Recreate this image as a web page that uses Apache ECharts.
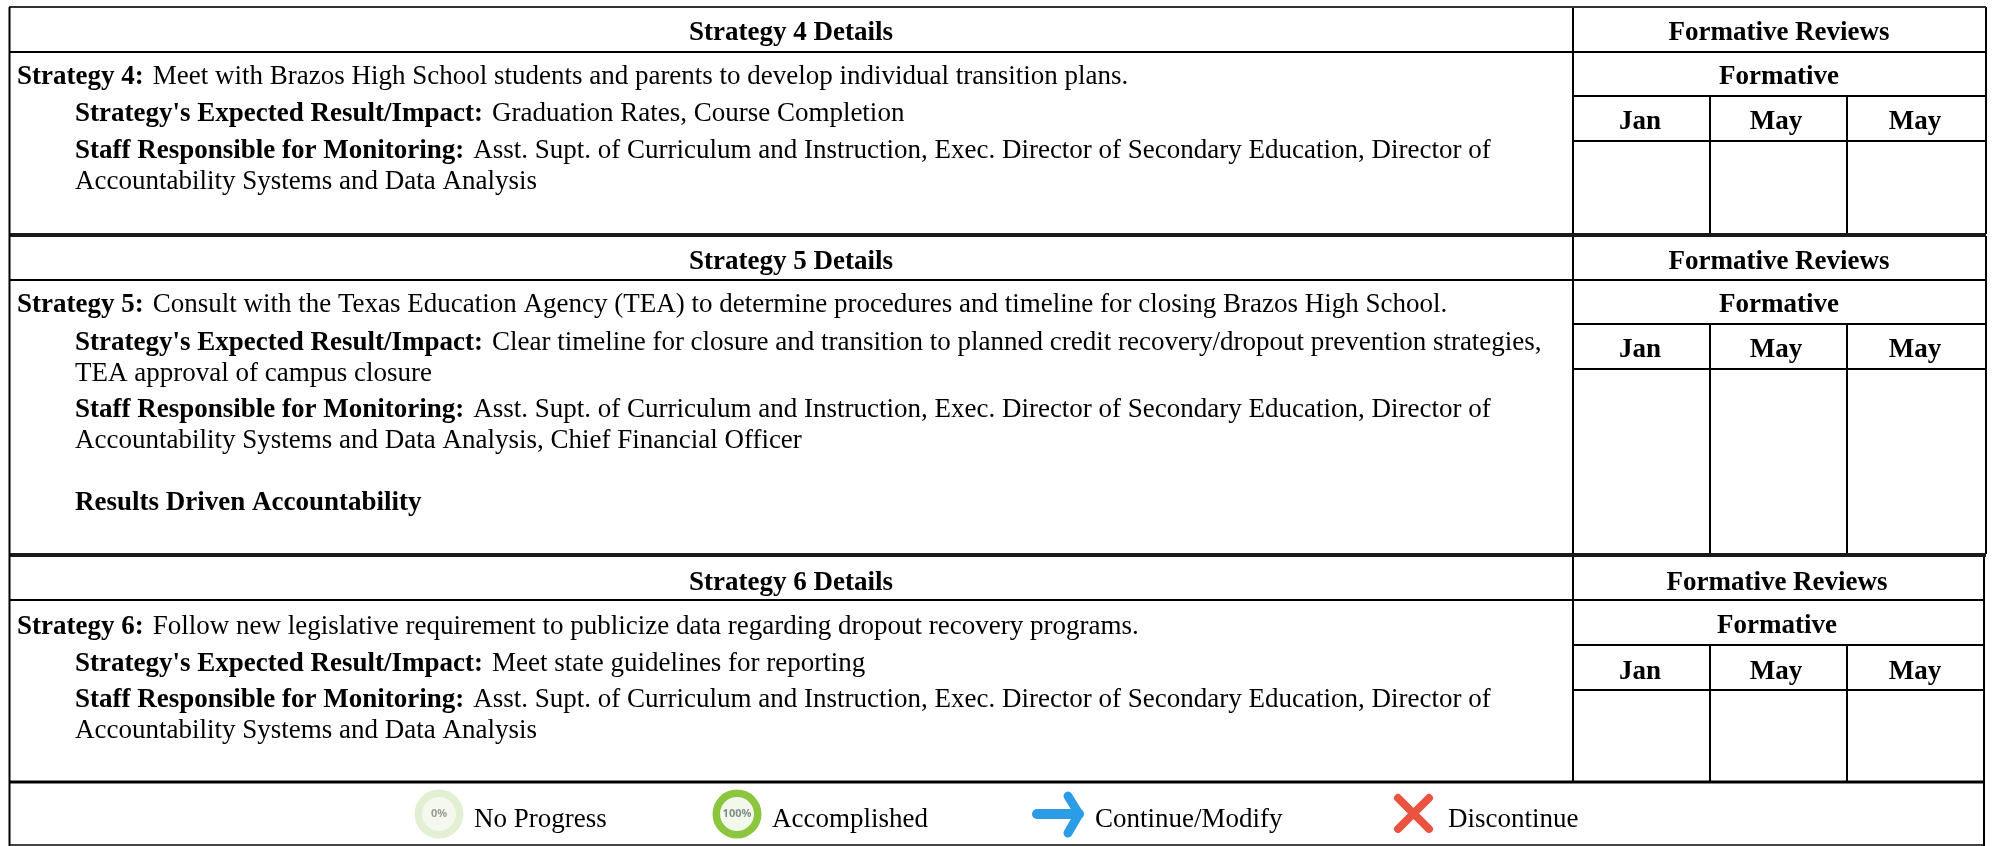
<!DOCTYPE html>
<html>
<head>
<meta charset="utf-8">
<title>Strategy Details</title>
<style>
html, body { margin: 0; padding: 0; background: #fff; }
#main { width: 1995px; height: 846px; }
</style>
<script src="https://cdn.jsdelivr.net/npm/echarts@6/dist/echarts.min.js"></script>
</head>
<body>
<div id="main"></div>
<script>
var sectionTitles = ['Strategy 4 Details', 'Strategy 5 Details', 'Strategy 6 Details'];
var reviewTitle = 'Formative Reviews';
var formativeTitle = 'Formative';
var months = ['Jan', 'May', 'May'];

// [bold part, regular part, line centre y]
var strategy4Lines = [
    ['Strategy 4:', 'Meet with Brazos High School students and parents to develop individual transition plans.', 77],
    ["Strategy's Expected Result/Impact:", 'Graduation Rates, Course Completion', 114],
    ['Staff Responsible for Monitoring:', 'Asst. Supt. of Curriculum and Instruction, Exec. Director of Secondary Education, Director of', 151],
    ['', 'Accountability Systems and Data Analysis', 182]
];
var strategy5Lines = [
    ['Strategy 5:', 'Consult with the Texas Education Agency (TEA) to determine procedures and timeline for closing Brazos High School.', 305],
    ["Strategy's Expected Result/Impact:", 'Clear timeline for closure and transition to planned credit recovery/dropout prevention strategies,', 343],
    ['', 'TEA approval of campus closure', 374],
    ['Staff Responsible for Monitoring:', 'Asst. Supt. of Curriculum and Instruction, Exec. Director of Secondary Education, Director of', 410],
    ['', 'Accountability Systems and Data Analysis, Chief Financial Officer', 441],
    ['Results Driven Accountability', '', 503]
];
var strategy6Lines = [
    ['Strategy 6:', 'Follow new legislative requirement to publicize data regarding dropout recovery programs.', 627],
    ["Strategy's Expected Result/Impact:", 'Meet state guidelines for reporting', 664],
    ['Staff Responsible for Monitoring:', 'Asst. Supt. of Curriculum and Instruction, Exec. Director of Secondary Education, Director of', 700],
    ['', 'Accountability Systems and Data Analysis', 731]
];
var legendLabels = ['No Progress', 'Accomplished', 'Continue/Modify', 'Discontinue'];
var legendPercents = ['0%', '100%'];

var FONT = '"Liberation Serif", "Times New Roman", serif';
var SIZE = 27;
var items = [];

function hline(x1, x2, y, w, color) {
    items.push({ type: 'line', shape: { x1: x1, y1: y, x2: x2, y2: y }, style: { stroke: color || '#000', lineWidth: w || 2 } });
}
function vline(x, y1, y2, w, color) {
    items.push({ type: 'line', shape: { x1: x, y1: y1, x2: x, y2: y2 }, style: { stroke: color || '#000', lineWidth: w || 2 } });
}
function centerText(str, x, y) {
    items.push({
        type: 'text',
        style: { text: str, x: x, y: y, align: 'center', verticalAlign: 'middle', font: 'bold ' + SIZE + 'px ' + FONT, fill: '#000' }
    });
}
function bodyLine(line, first) {
    var txt = '';
    if (line[0]) txt += '{b|' + line[0] + '}';
    if (line[0] && line[1]) txt += '{g| }';
    if (line[1]) txt += '{r|' + line[1] + '}';
    items.push({
        type: 'text',
        style: {
            text: txt,
            x: first ? 17 : 75,
            y: line[2],
            verticalAlign: 'middle',
            rich: {
                b: { font: 'bold ' + SIZE + 'px ' + FONT, fill: '#000' },
                g: { font: SIZE + 'px ' + FONT, width: 9 },
                r: { font: SIZE + 'px ' + FONT, fill: '#000' }
            }
        }
    });
}

// one strategy block: rows = [top, header bottom, formative bottom, month bottom, block bottom]
function block(idx, rows, lines, right, reviewX, shift) {
    hline(9, right, rows[1]);
    hline(1573, right, rows[2]);
    hline(1573, right, rows[3]);
    vline(1573, rows[0], rows[4]);
    vline(1710, rows[2], rows[4]);
    vline(1847, rows[2], rows[4]);
    vline(right, rows[0], rows[4]);
    var m = (rows[2] + rows[3]) / 2 + 4 + shift;
    centerText(sectionTitles[idx], 791, (rows[0] + rows[1]) / 2 + 4 + shift);
    centerText(reviewTitle, reviewX, (rows[0] + rows[1]) / 2 + 4 + shift);
    centerText(formativeTitle, reviewX, (rows[1] + rows[2]) / 2 + 3 + shift);
    centerText(months[0], 1640, m);
    centerText(months[1], 1776, m);
    centerText(months[2], 1915, m);
    lines.forEach(function(l, i) {
        bodyLine(l, i === 0);
    });
}

block(0, [7, 52, 96, 141, 234], strategy4Lines, 1986, 1779, 0);
block(1, [236, 280, 324, 369, 554], strategy5Lines, 1986, 1779, 0);
block(2, [556, 600, 645, 690, 782], strategy6Lines, 1984, 1777, 1);

// outer lines, the section breaks are a thicker band
hline(9, 1986, 7, 2, '#333');
hline(9, 1986, 235, 4, '#1a1a1a');
hline(9, 1986, 555, 4, '#1a1a1a');
hline(9, 1984, 782, 3);
hline(9, 1984, 845, 2, '#444');
vline(9.5, 7, 846, 2);
vline(1984, 782, 846, 2);

// legend icons
function ring(cx, cy, outer, inner) {
    items.push({ type: 'circle', shape: { cx: cx, cy: cy, r: 24.5 }, style: { fill: outer } });
    items.push({ type: 'circle', shape: { cx: cx, cy: cy, r: 17 }, style: { fill: inner } });
}
ring(439, 814, '#e3efd2', '#f4f8ee');
ring(737, 814, '#8cc63f', '#f2f8ec');
items.push({ type: 'text', style: { text: legendPercents[0], x: 439, y: 814, align: 'center', verticalAlign: 'middle', font: 'bold 11px "Open Sans", sans-serif', fill: '#9a9f96' } });
items.push({ type: 'text', style: { text: legendPercents[1], x: 737, y: 814, align: 'center', verticalAlign: 'middle', font: 'bold 11px "Open Sans", sans-serif', fill: '#7f8f8c' } });

// arrow
items.push({ type: 'line', shape: { x1: 1037, y1: 814, x2: 1079, y2: 814 }, style: { stroke: '#2b9de6', lineWidth: 10, lineCap: 'round' } });
items.push({ type: 'polyline', shape: { points: [[1068, 796], [1079, 814], [1068, 833]] }, style: { stroke: '#2b9de6', fill: null, lineWidth: 9, lineCap: 'round', lineJoin: 'round' } });
// cross
items.push({ type: 'line', shape: { x1: 1398, y1: 798, x2: 1429, y2: 829 }, style: { stroke: '#ea5340', lineWidth: 8, lineCap: 'round' } });
items.push({ type: 'line', shape: { x1: 1429, y1: 798, x2: 1398, y2: 829 }, style: { stroke: '#ea5340', lineWidth: 8, lineCap: 'round' } });

var legendX = [474, 772, 1095, 1448];
legendLabels.forEach(function(t, i) {
    items.push({ type: 'text', style: { text: t, x: legendX[i], y: 820, verticalAlign: 'middle', font: SIZE + 'px ' + FONT, fill: '#000' } });
});

var chart = echarts.init(document.getElementById('main'));
chart.setOption({
    backgroundColor: '#fff',
    animation: false,
    graphic: { elements: items }
});
</script>
</body>
</html>
